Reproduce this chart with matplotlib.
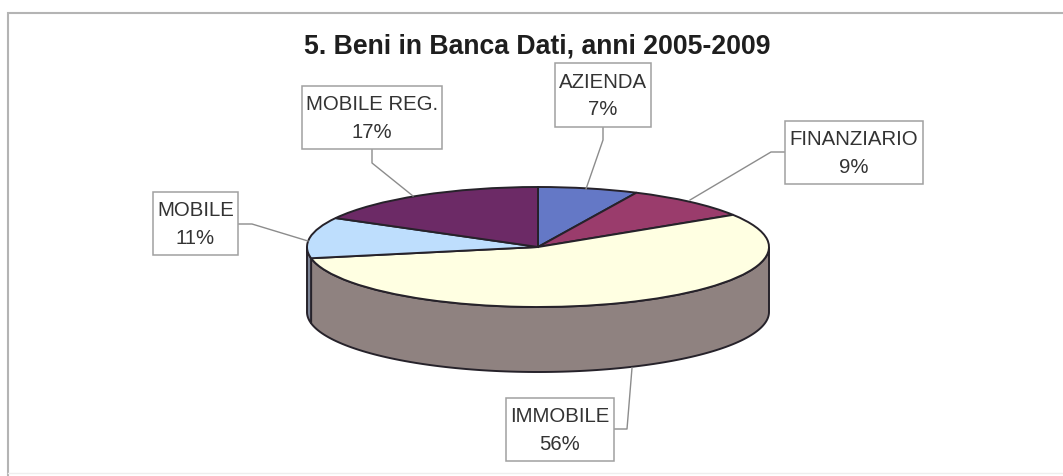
import numpy as np
import matplotlib
matplotlib.use("Agg")
import matplotlib.pyplot as plt

plt.rcParams['font.family'] = ['Liberation Sans', 'DejaVu Sans']

title = "5. Beni in Banca Dati, anni 2005-2009"
categories = ["AZIENDA", "FINANZIARIO", "IMMOBILE", "MOBILE", "MOBILE REG."]
values = [7, 9, 56, 11, 17]
top_colors = ["#6478C6", "#9A3C6C", "#FFFFE2", "#BEDEFD", "#6C2A66"]
side_colors = ["#4A5A96", "#74304F", "#8F8280", "#7C8496", "#50204C"]

W, H = 1063, 476
CX, CY, RX, RY, DEPTH = 538, 247, 231, 60, 65
EDGE = "#26222A"

# label boxes (left, top, right, bottom) and leader lines, in pixels
boxes = {
    "AZIENDA": (555, 63, 651, 127),
    "FINANZIARIO": (785, 121, 923, 184),
    "IMMOBILE": (506, 398, 614, 461),
    "MOBILE": (153, 192, 238, 255),
    "MOBILE REG.": (302, 86, 442, 149),
}
leaders = {
    "AZIENDA": [(603, 127), (603, 140), (586, 189)],
    "FINANZIARIO": [(785, 152), (771, 152), (690, 200)],
    "IMMOBILE": [(614, 429), (627, 429), (632, 368)],
    "MOBILE": [(238, 224), (252, 224), (308, 241)],
    "MOBILE REG.": [(372, 149), (372, 163), (413, 196)],
}

fig = plt.figure(figsize=(W / 100, H / 100), dpi=100, facecolor="white")

# overlay in pixel coordinates for frame, title and callouts
ov = fig.add_axes([0, 0, 1, 1], zorder=3)
ov.set_xlim(0, W)
ov.set_ylim(H, 0)
ov.axis("off")
ov.patch.set_alpha(0)

# unit circle axes: squashing it turns the pie into the ellipse of the top face
pie_ax = fig.add_axes([(CX - RX) / W, 1 - (CY + RY) / H, 2 * RX / W, 2 * RY / H], zorder=2)
wedges, _ = pie_ax.pie(values, colors=top_colors, startangle=90, counterclock=False,
                       radius=1, wedgeprops=dict(edgecolor=EDGE, linewidth=1.4, zorder=3))
pie_ax.set_aspect("auto")
pie_ax.set_xlim(-1, 1)
pie_ax.set_ylim(-1, 1)
pie_ax.axis("off")
for w in wedges:
    w.set_clip_on(False)

# extruded rim, from the same values
d = DEPTH / RY
fractions = np.cumsum([0] + values) / sum(values)
for i, col in enumerate(side_colors):
    hi = min(90 - 360 * fractions[i], 0)
    lo = max(90 - 360 * fractions[i + 1], -180)
    if hi <= lo:
        continue
    t = np.radians(np.linspace(hi, lo, 120))
    x = np.concatenate([np.cos(t), np.cos(t[::-1])])
    y = np.concatenate([np.sin(t), np.sin(t[::-1]) - d])
    poly = pie_ax.fill(x, y, facecolor=col, edgecolor=EDGE, linewidth=1.4, zorder=1)[0]
    poly.set_clip_on(False)

# scanned frame: left and top lines, faint bottom
ov.plot([8, 8, W], [H, 12.5, 12.5], color="#B4B4B4", lw=1.5, solid_joinstyle="miter")
ov.plot([8, W], [473, 473], color="#EEEEEE", lw=1.0)

ov.text(537.5, 47, title, ha="center", va="center", fontsize=19.2, fontweight="bold", color="#1E1E1E")

for name, val in zip(categories, values):
    l, t, r, b = boxes[name]
    ov.fill([l, r, r, l], [t, t, b, b], facecolor="white", edgecolor="#A0A0A0", lw=1.1, zorder=4)
    ov.plot(*zip(*leaders[name]), color="#8C8C8C", lw=1.0, zorder=3)
    ov.text((l + r) / 2, (t + b) / 2 + 1, f"{name}\n{val}%", ha="center", va="center",
            fontsize=14.7, color="#333333", linespacing=1.55, zorder=5)

fig.savefig("out.png", dpi=100, facecolor="white")
